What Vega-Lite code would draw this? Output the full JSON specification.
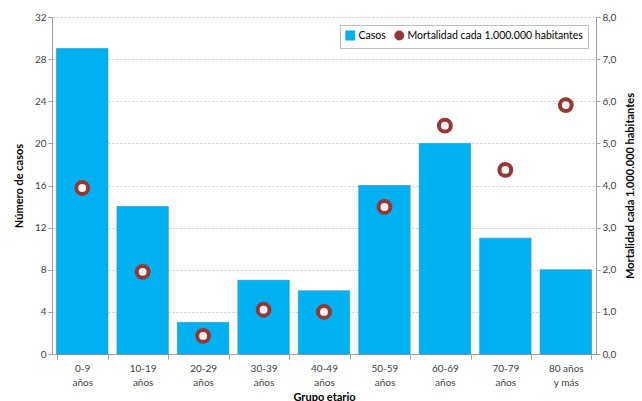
{
  "$schema": "https://vega.github.io/schema/vega-lite/v6.json",
  "width": 544,
  "height": 337,
  "autosize": "none",
  "padding": {"left": 52, "top": 17, "right": 46, "bottom": 47},
  "background": "white",
  "config": {
    "font": "Lato",
    "view": {"stroke": null},
    "axis": {"labelFont": "Lato", "titleFont": "Lato", "labelColor": "#404040", "titleColor": "#000000", "domainColor": "#a0a0a0", "tickColor": "#a0a0a0", "labelFontSize": 10, "titleFontSize": 11, "titleFontWeight": "bold"},
    "legend": {
      "title": null, "orient": "top-right", "offset": 8, "direction": "horizontal",
      "padding": 5, "strokeColor": "#bfbfbf", "fillColor": "white",
      "labelFontSize": 10.5, "labelColor": "#000000", "labelFont": "Lato", "labelLimit": 400,
      "symbolSize": 70, "columnPadding": 6, "labelOffset": 3
    }
  },
  "data": {
    "values": [
      {"grupo": "0-9 años", "casos": 29, "mort": 3.94},
      {"grupo": "10-19 años", "casos": 14, "mort": 1.95},
      {"grupo": "20-29 años", "casos": 3, "mort": 0.43},
      {"grupo": "30-39 años", "casos": 7, "mort": 1.05},
      {"grupo": "40-49 años", "casos": 6, "mort": 1.0},
      {"grupo": "50-59 años", "casos": 16, "mort": 3.49},
      {"grupo": "60-69 años", "casos": 20, "mort": 5.42},
      {"grupo": "70-79 años", "casos": 11, "mort": 4.37},
      {"grupo": "80 años y más", "casos": 8, "mort": 5.91}
    ]
  },
  "encoding": {
    "x": {
      "field": "grupo", "type": "nominal", "sort": null,
      "scale": {"paddingInner": 0.15, "paddingOuter": 0.075},
      "axis": {
        "title": "Grupo etario", "labelAngle": 0, "tickBand": "extent", "tickSize": 5,
        "labelExpr": "!isValid(datum.value) ? '' : (datum.value == '80 años y más' ? ['80 años', 'y más'] : split(datum.value, ' '))",
        "labelLineHeight": 14, "labelPadding": 4, "titlePadding": 4
      }
    }
  },
  "layer": [
    {
      "mark": {"type": "bar", "fill": "#00B0F0", "stroke": "#1790c0", "strokeWidth": 0.6},
      "encoding": {
        "y": {
          "field": "casos", "type": "quantitative",
          "scale": {"domain": [0, 32], "nice": false},
          "axis": {"title": "Número de casos", "values": [0, 4, 8, 12, 16, 20, 24, 28, 32], "grid": true, "gridDash": [2, 2], "gridColor": "#c8c8c8", "tickSize": 4, "titlePadding": 10}
        },
        "color": {
          "datum": "Casos", "type": "nominal",
          "scale": {"domain": ["Casos", "Mortalidad cada 1.000.000 habitantes"], "range": ["#00B0F0", "#953735"]},
          "legend": {"title": null}
        }
      }
    },
    {
      "mark": {"type": "point", "filled": false, "fill": "#f4f4f4", "fillOpacity": 1, "stroke": "#953735", "strokeWidth": 4, "size": 140, "opacity": 1},
      "encoding": {
        "y": {
          "field": "mort", "type": "quantitative",
          "scale": {"domain": [0, 8], "nice": false},
          "axis": {"title": "Mortalidad cada 1.000.000 habitantes", "orient": "right", "values": [0, 1, 2, 3, 4, 5, 6, 7, 8], "grid": false, "tickSize": 4, "titleAngle": 270, "titlePadding": 20, "labelExpr": "replace(format(datum.value, '.1f'), '.', ',')"}
        },
        "color": {"datum": "Mortalidad cada 1.000.000 habitantes", "type": "nominal", "legend": {"title": null}},
        "shape": {
          "datum": "Mortalidad cada 1.000.000 habitantes", "type": "nominal",
          "scale": {"domain": ["Casos", "Mortalidad cada 1.000.000 habitantes"], "range": ["square", "circle"]},
          "legend": {"title": null}
        }
      }
    }
  ],
  "resolve": {"scale": {"y": "independent"}}
}
